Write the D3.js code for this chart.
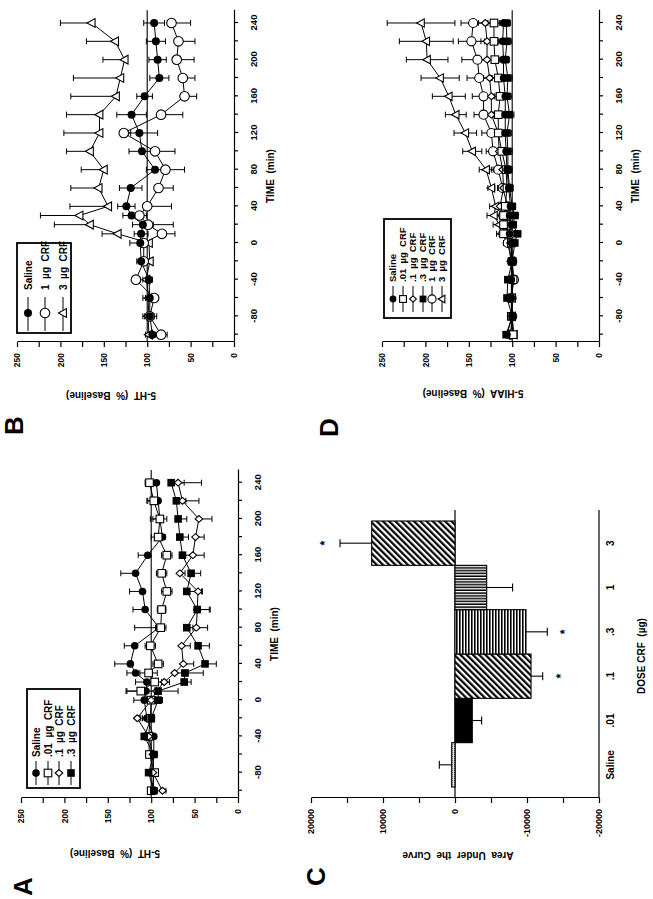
<!DOCTYPE html>
<html><head><meta charset="utf-8">
<script src="https://cdn.jsdelivr.net/npm/d3@7/dist/d3.min.js"></script>
<style>
body{margin:0;background:#fff}
svg{display:block}
text{font-family:"Liberation Sans",Arial,Helvetica,sans-serif;font-weight:bold;fill:#000}
</style>
</head><body>
<svg id="c" width="653" height="899"></svg>
<script>
// ---------- DATA ----------
const times = [-100,-80,-60,-40,-20,0,10,20,30,40,60,80,100,120,140,160,180,200,220,240];
const timeTicks = [-100,-80,-60,-40,-20,0,20,40,60,80,100,120,140,160,180,200,220,240];
const valueTicks = [0,25,50,75,100,125,150,175,200,225,250];

// Panel A: 5-HT, low doses
const aSaline    = [97,98,97,97,105,108,106,105,118,124,119,91,107,110,118,104,87,90,92,94];
const aSalineErr = [4,5,4,5,5,12,22,13,10,18,12,28,14,15,17,11,9,11,13,11];
const aP01       = [100,96,102,103,101,100,112,96,103,92,101,89,88,82,88,82,92,90,97,102];
const aP01Err    = [4,4,4,4,4,5,17,8,10,6,6,6,5,6,6,6,8,8,7,5];
const aP1        = [87,98,98,103,116,100,94,85,73,63,65,48,47,46,67,52,49,45,64,69];
const aP1Err     = [4,4,4,4,4,4,5,6,8,12,10,13,15,5,6,13,10,15,19,27];
const aP3        = [97,103,97,108,100,92,92,62,61,38,46,59,47,59,54,64,67,69,71,77];
const aP3Err     = [4,4,4,4,4,5,23,8,21,13,13,7,14,17,11,12,10,10,11,15];

// Panel B: 5-HT, high doses
const bSaline    = [94,97,97,98,107,108,107,105,118,124,119,91,106,109,118,103,86,88,90,92];
const bSalineErr = [4,8,8,4,5,12,8,12,10,10,13,10,15,21,17,9,11,10,11,12];
const bOne       = [84,97,92,113,104,104,83,99,109,100,87,79,91,127,84,57,59,66,64,72];
const bOneErr    = [7,5,5,5,5,5,15,29,8,28,17,22,23,8,25,14,14,20,19,22];
const bThree     = [98,99,98,101,97,98,134,166,178,145,156,150,166,155,155,136,131,126,137,164];
const bThreeErr  = [4,4,4,4,4,4,18,41,45,44,32,26,27,41,38,52,54,25,33,36];

// Panel D: 5-HIAA, all doses
const dSaline    = [106,100,101,101,100,101,103,101,103,102,104,106,107,108,108,108,110,110,111,110];
const dSalineErr = [3,3,3,3,3,3,4,4,4,4,4,5,5,5,5,5,5,5,5,5];
const dP01       = [99,101,101,99,100,101,110,110,110,108,106,107,112,116,116,114,116,120,121,121];
const dP01Err    = [3,3,3,3,3,4,5,5,5,6,6,6,6,7,6,7,7,7,7,7];
const dP1        = [100,101,100,101,100,102,108,106,112,114,110,111,115,116,124,124,126,129,129,131];
const dP1Err     = [3,3,3,3,3,4,5,5,6,6,6,6,6,7,6,7,7,7,7,8];
const dP3        = [107,100,106,105,100,97,94,99,97,100,103,105,105,106,103,106,105,108,106,107];
const dP3Err     = [3,3,3,3,3,3,4,4,4,4,4,5,5,5,5,5,5,5,5,5];
const dOne       = [102,100,101,98,100,105,103,105,105,105,111,116,122,124,133,133,138,140,147,145];
const dOneErr    = [3,4,4,4,4,5,5,6,7,6,6,8,8,11,11,13,14,18,15,14];
const dThree     = [98,100,100,101,101,105,112,115,121,119,124,130,146,154,165,173,183,198,199,205];
const dThreeErr  = [3,4,4,4,4,5,6,7,8,7,4,8,11,13,12,19,22,24,31,39];

// Panel C: area under the curve
const doseCats   = ["Saline",".01",".1",".3","1","3"];
const auc        = [460,-2400,-10560,-9860,-4400,11570];
const aucErr     = [1720,1300,1620,2960,3600,4400];
const aucSig     = [false,false,true,true,false,true];
const aucTicks   = [-20000,-15000,-10000,-5000,0,5000,10000,15000,20000];

// ---------- DRAWING ----------
const svg = d3.select("#c");
const defs = svg.append("defs");
// the whole figure is drawn in landscape and turned 90 degrees counter-clockwise
const fig = svg.append("g").attr("transform","translate(0,899) rotate(-90)");

const markerOf = {"Saline":"fcircle",".01":"osquare",".1":"diamond",".3":"fsquare","1":"ocircle","3":"triangle"};
const legendText = {"Saline":"Saline",".01":".01  µg  CRF",".1":".1  µg  CRF",".3":".3  µg  CRF","1":"1  µg  CRF","3":"3  µg  CRF"};

function marker(g, type, cx, cy, k){
  const sw = 1.1;
  if(type==="fcircle") g.append("circle").attr("cx",cx).attr("cy",cy).attr("r",4*k).attr("fill","#000");
  else if(type==="ocircle") g.append("circle").attr("cx",cx).attr("cy",cy).attr("r",4.8*k).attr("fill","#fff").attr("stroke","#000").attr("stroke-width",sw);
  else if(type==="osquare") g.append("rect").attr("x",cx-4*k).attr("y",cy-4*k).attr("width",8*k).attr("height",8*k).attr("fill","#fff").attr("stroke","#000").attr("stroke-width",sw);
  else if(type==="fsquare") g.append("rect").attr("x",cx-4*k).attr("y",cy-4*k).attr("width",8*k).attr("height",8*k).attr("fill","#000");
  else if(type==="diamond") g.append("path").attr("d",`M${cx},${cy-4*k}L${cx+3.6*k},${cy}L${cx},${cy+4*k}L${cx-3.6*k},${cy}Z`).attr("fill","#fff").attr("stroke","#000").attr("stroke-width",sw);
  else if(type==="triangle") g.append("path").attr("d",`M${cx},${cy-4.6*k}L${cx+4.4*k},${cy+3.4*k}L${cx-4.4*k},${cy+3.4*k}Z`).attr("fill","#fff").attr("stroke","#000").attr("stroke-width",sw);
}

function styleAxis(a, fs){
  a.attr("font-family",null).attr("font-size",null);
  a.selectAll("path,line").attr("stroke","#000").attr("stroke-width",1.2);
  a.selectAll("text").style("font-size",fs+"px");
}

function timePanel(p){
  const g = fig.append("g");
  const x = d3.scaleLinear().domain([-108,254]).range([p.u0, p.u0+362*p.ppm]);
  const y = d3.scaleLinear().domain([0,250]).range([p.vBot, p.vTop]);
  g.append("line").attr("x1",x.range()[0]).attr("x2",x.range()[1]).attr("y1",y(100)).attr("y2",y(100))
    .attr("stroke","#000").attr("stroke-width",1.1);
  const xa = g.append("g").attr("transform",`translate(0,${p.vBot})`)
    .call(d3.axisBottom(x).tickValues(timeTicks).tickFormat(d=> d%40===0 ? d : "").tickSize(4).tickSizeOuter(0).tickPadding(12));
  const ya = g.append("g").attr("transform",`translate(${p.u0},0)`)
    .call(d3.axisLeft(y).tickValues(valueTicks).tickFormat(d=> d%50===0 ? d : "").tickSize(5).tickSizeOuter(0).tickPadding(6));
  styleAxis(xa, 9.5); styleAxis(ya, 8.5);
  g.append("text").attr("x",(x.range()[0]+x.range()[1])/2).attr("y",p.vBot+40).attr("text-anchor","middle")
    .style("font-size","10px").style("white-space","pre").text("TIME  (min)");
  g.append("text").attr("transform",`translate(${p.yTitle[0]},${p.yTitle[1]}) rotate(-90)`).attr("text-anchor","middle").attr("dy","0.35em")
    .style("font-size","10px").style("white-space","pre").text(p.yText);
  g.append("text").attr("x",p.letter[0]).attr("y",p.letter[1]).style("font-size","26px").text(p.id);

  const line = d3.line().x((d,i)=>x(times[i])).y(d=>y(d));
  const lg = g.append("g"), eg = g.append("g"), mg = g.append("g");
  p.series.forEach(s=>{
    lg.append("path").attr("d",line(s.values)).attr("fill","none").attr("stroke","#000").attr("stroke-width",1);
    s.values.forEach((v,i)=>{
      const e = s.err[i], cx = x(times[i]);
      const lo = s.dir==="up" ? v : v-e, hi = s.dir==="down" ? v : v+e;
      eg.append("line").attr("x1",cx).attr("x2",cx).attr("y1",y(lo)).attr("y2",y(hi)).attr("stroke","#000").attr("stroke-width",1);
      const caps = s.dir==="up" ? [hi] : s.dir==="down" ? [lo] : [lo,hi];
      caps.forEach(c=> eg.append("line").attr("x1",cx-3).attr("x2",cx+3).attr("y1",y(c)).attr("y2",y(c)).attr("stroke","#000").attr("stroke-width",1));
    });
  });
  p.series.forEach(s=>{
    s.values.forEach((v,i)=> marker(mg, markerOf[s.name], x(times[i]), y(v), p.mk));
  });
  // legend
  const L = p.legend;
  const lgd = g.append("g");
  lgd.append("rect").attr("x",L.u).attr("y",L.v).attr("width",L.w).attr("height",L.h)
    .attr("fill","#fff").attr("stroke","#000").attr("stroke-width",1.8);
  L.order.forEach((name,i)=>{
    const rv = L.rows[i];
    lgd.append("line").attr("x1",L.line[0]).attr("x2",L.line[1]).attr("y1",rv).attr("y2",rv).attr("stroke","#000").attr("stroke-width",1);
    marker(lgd, markerOf[name], L.mark, rv, p.lmk);
    lgd.append("text").attr("x",L.text).attr("y",rv).attr("dy","0.36em").style("font-size",L.fs+"px").style("white-space","pre").text(legendText[name]);
  });
}

timePanel({id:"A", u0:101, ppm:0.906, vTop:21, vBot:238, mk:0.95, lmk:0.95,
  yTitle:[46,115], yText:"5-HT  (%  Baseline)", letter:[3,32],
  series:[
    {name:"Saline",values:aSaline,err:aSalineErr,dir:"up"},
    {name:".01",values:aP01,err:aP01Err,dir:"both"},
    {name:".1",values:aP1,err:aP1Err,dir:"down"},
    {name:".3",values:aP3,err:aP3Err,dir:"down"}],
  legend:{u:111,v:27,w:99,h:53,rows:[36,48,59,71],line:[114,138],mark:126,text:142,fs:10,order:["Saline",".01",".1",".3"]}
});

timePanel({id:"B", u0:557, ppm:0.9167, vTop:17, vBot:234, mk:1, lmk:1,
  yTitle:[504,111], yText:"5-HT  (%  Baseline)", letter:[464,23],
  series:[
    {name:"3",values:bThree,err:bThreeErr,dir:"up"},
    {name:"1",values:bOne,err:bOneErr,dir:"down"},
    {name:"Saline",values:bSaline,err:bSalineErr,dir:"both"}],
  legend:{u:566,v:17,w:90,h:54,rows:[28,45,63],line:[568,602],mark:586,text:609,fs:10,order:["Saline","1","3"]}
});

timePanel({id:"D", u0:557, ppm:0.9167, vTop:382, vBot:599, mk:0.95, lmk:0.85,
  yTitle:[506,473], yText:"5-HIAA  (%  Baseline)", letter:[462,338],
  series:[
    {name:"3",values:dThree,err:dThreeErr,dir:"both"},
    {name:"1",values:dOne,err:dOneErr,dir:"both"},
    {name:".1",values:dP1,err:dP1Err,dir:"both"},
    {name:".01",values:dP01,err:dP01Err,dir:"both"},
    {name:"Saline",values:dSaline,err:dSalineErr,dir:"both"},
    {name:".3",values:dP3,err:dP3Err,dir:"both"}],
  legend:{u:581,v:384,w:99,h:67,rows:[393,403,413,423,432,442],line:[587,613],mark:600,text:617,fs:9.5,order:["Saline",".01",".1",".3","1","3"]}
});

// ---------- Panel C ----------
(function(){
  const g = fig.append("g");
  const diag = defs.append("pattern").attr("id","diag").attr("patternUnits","userSpaceOnUse")
    .attr("width",4.4).attr("height",10).attr("patternTransform","rotate(45)");
  diag.append("rect").attr("width",4.4).attr("height",10).attr("fill","#fff");
  diag.append("rect").attr("width",2.2).attr("height",10).attr("fill","#000");
  const hor = defs.append("pattern").attr("id","hor").attr("patternUnits","userSpaceOnUse").attr("width",10).attr("height",3);
  hor.append("rect").attr("width",10).attr("height",3).attr("fill","#fff");
  hor.append("rect").attr("width",10).attr("height",1.6).attr("fill","#000");
  const ver = defs.append("pattern").attr("id","ver").attr("patternUnits","userSpaceOnUse").attr("width",2.8).attr("height",10);
  ver.append("rect").attr("width",2.8).attr("height",10).attr("fill","#fff");
  ver.append("rect").attr("width",1.5).attr("height",10).attr("fill","#000");
  const stip = defs.append("pattern").attr("id","stip").attr("patternUnits","userSpaceOnUse").attr("width",2).attr("height",2);
  stip.append("rect").attr("width",2).attr("height",2).attr("fill","#e4e4e4");
  stip.append("rect").attr("width",1).attr("height",1).attr("fill","#777");
  const fills = {"Saline":"url(#stip)",".01":"#000",".1":"url(#diag)",".3":"url(#hor)","1":"url(#ver)","3":"url(#diag)"};

  const x = d3.scaleBand().domain(doseCats).range([112,378]).padding(0);
  const y = d3.scaleLinear().domain([-20000,20000]).range([599,311]);
  const uL = 101, uR = 389;
  const ya = g.append("g").attr("transform",`translate(${uL},0)`)
    .call(d3.axisLeft(y).tickValues(aucTicks).tickFormat(d=> d%10000===0 ? d : "").tickSize(5).tickSizeOuter(0).tickPadding(6));
  styleAxis(ya, 9);
  g.append("line").attr("x1",uL).attr("x2",uR).attr("y1",599).attr("y2",599).attr("stroke","#000").attr("stroke-width",1.2);
  g.append("line").attr("x1",uL).attr("x2",uR).attr("y1",y(0)).attr("y2",y(0)).attr("stroke","#000").attr("stroke-width",1.2);
  doseCats.forEach((c,i)=>{
    const v = auc[i];
    g.append("rect").attr("x",x(c)).attr("width",x.bandwidth())
      .attr("y",Math.min(y(v),y(0))).attr("height",Math.abs(y(v)-y(0)))
      .attr("fill",fills[c]).attr("stroke","#000").attr("stroke-width",1.1);
    const cx = x(c)+x.bandwidth()/2, end = v + Math.sign(v)*aucErr[i];
    g.append("line").attr("x1",cx).attr("x2",cx).attr("y1",y(v)).attr("y2",y(end)).attr("stroke","#000").attr("stroke-width",1.1);
    g.append("line").attr("x1",cx-4).attr("x2",cx+4).attr("y1",y(end)).attr("y2",y(end)).attr("stroke","#000").attr("stroke-width",1.1);
    if(aucSig[i]){
      const sv = v>0 ? end+2300 : end-2300;
      g.append("text").attr("x",cx).attr("y",y(sv)).attr("dy","0.45em").attr("text-anchor","middle").style("font-size","12px").text("*");
    }
    g.append("text").attr("x",cx).attr("y",614).attr("text-anchor","middle").style("font-size","10px").text(c);
  });
  g.append("text").attr("x",243).attr("y",645).attr("text-anchor","middle").style("font-size","10px").style("white-space","pre").text("DOSE CRF  (µg)");
  g.append("text").attr("transform",`translate(44,458) rotate(-90)`).attr("text-anchor","middle").attr("dy","0.35em")
    .style("font-size","10px").style("white-space","pre").text("Area  Under  the  Curve");
  g.append("text").attr("x",13).attr("y",325).style("font-size","26px").text("C");
})();
</script>
</body></html>
